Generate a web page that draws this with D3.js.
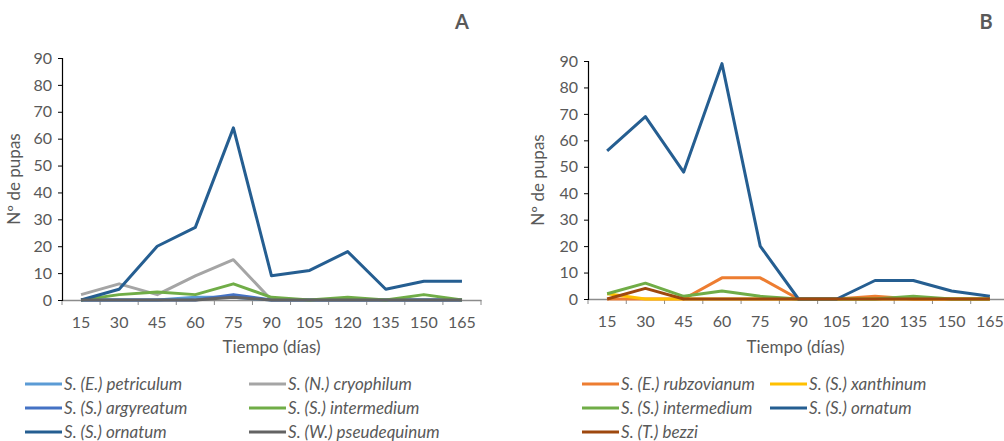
<!DOCTYPE html>
<html>
<head>
<meta charset="utf-8">
<script src="https://cdn.jsdelivr.net/npm/d3@7"></script>
<style>
  body { margin: 0; background: #fff; }
  text { font-family: Lato, 'Open Sans', sans-serif; fill: #595959; }
</style>
</head>
<body>
<svg width="1004" height="441"></svg>
<script>
// data
const days = ['15', '30', '45', '60', '75', '90', '105', '120', '135', '150', '165'];
const yTicks = [0, 10, 20, 30, 40, 50, 60, 70, 80, 90];

// panel A
const aPetriculum = [0, 0, 0, 1, 1, 0, 0, 0, 0, 0, 0];
const aCryophilum = [2, 6, 2, 9, 15, 0, 0, 0, 0, 0, 0];
const aArgyreatum = [0, 0, 0, 0, 2, 0, 0, 0, 0, 0, 0];
const aIntermedium = [0, 2, 3, 2, 6, 1, 0, 1, 0, 2, 0];
const aOrnatum = [0, 4, 20, 27, 64, 9, 11, 18, 4, 7, 7];
const aPseudequinum = [0, 0, 0, 0, 1, 0, 0, 0, 0, 0, 0];

// panel B
const bRubzovianum = [0, 0, 0, 8, 8, 0, 0, 1, 0, 0, 0];
const bXanthinum = [2, 0, 0, 0, 0, 0, 0, 0, 0, 0, 0];
const bIntermedium = [2, 6, 1, 3, 1, 0, 0, 0, 1, 0, 0];
const bOrnatum = [56, 69, 48, 89, 20, 0, 0, 7, 7, 3, 1];
const bBezzi = [0, 4, 0, 0, 0, 0, 0, 0, 0, 0, 0];

const panelA = [
  { name: 'S. (E.) petriculum', values: aPetriculum, color: '#5B9BD5' },
  { name: 'S. (N.) cryophilum', values: aCryophilum, color: '#A5A5A5' },
  { name: 'S. (S.) argyreatum', values: aArgyreatum, color: '#4472C4' },
  { name: 'S. (S.) intermedium', values: aIntermedium, color: '#70AD47' },
  { name: 'S. (S.) ornatum', values: aOrnatum, color: '#255E91' },
  { name: 'S. (W.) pseudequinum', values: aPseudequinum, color: '#636363' }
];
const panelB = [
  { name: 'S. (E.) rubzovianum', values: bRubzovianum, color: '#ED7D31' },
  { name: 'S. (S.) xanthinum', values: bXanthinum, color: '#FFC000' },
  { name: 'S. (S.) intermedium', values: bIntermedium, color: '#70AD47' },
  { name: 'S. (S.) ornatum', values: bOrnatum, color: '#255E91' },
  { name: 'S. (T.) bezzi', values: bBezzi, color: '#9E480E' }
];

const svg = d3.select('svg');

function drawPanel(cfg) {
  const g = svg.append('g');
  const x = d3.scaleBand().domain(days).range([cfg.left, cfg.right]);
  const y = d3.scaleLinear().domain([0, 90]).range([cfg.bottom, cfg.top]);

  // x axis
  const xa = g.append('g')
    .attr('transform', `translate(0, ${cfg.bottom})`)
    .call(d3.axisBottom(x).tickSizeOuter(0).tickSize(0).tickPadding(17));
  xa.select('.domain').attr('stroke', '#8c8c8c').attr('stroke-width', 1.3);
  xa.selectAll('text').style('font-size', '16px');
  // tick marks on band edges
  g.append('g').selectAll('line')
    .data(days)
    .join('line')
    .attr('x1', (d) => x(d) + x.bandwidth())
    .attr('x2', (d) => x(d) + x.bandwidth())
    .attr('y1', cfg.bottom)
    .attr('y2', cfg.bottom + 5)
    .attr('stroke', '#8c8c8c');
  g.append('line')
    .attr('x1', cfg.left).attr('x2', cfg.left)
    .attr('y1', cfg.bottom).attr('y2', cfg.bottom + 5)
    .attr('stroke', '#8c8c8c');

  // y axis
  const ya = g.append('g')
    .attr('transform', `translate(${cfg.left}, 0)`)
    .call(d3.axisLeft(y).tickValues(yTicks).tickSizeOuter(0).tickSize(4).tickPadding(6));
  ya.select('.domain').attr('stroke', '#000').attr('stroke-width', 1.2);
  ya.selectAll('line').attr('stroke', '#000');
  ya.selectAll('text').style('font-size', '16px');

  const line = d3.line()
    .x((d, i) => x(days[i]) + x.bandwidth() / 2)
    .y((d) => y(d));

  g.append('g').selectAll('path')
    .data(cfg.series)
    .join('path')
    .attr('d', (s) => line(s.values))
    .attr('fill', 'none')
    .attr('stroke', (s) => s.color)
    .attr('stroke-width', 3)
    .attr('stroke-linejoin', 'round');

  // axis titles
  g.append('text')
    .attr('x', (cfg.left + cfg.xTitleRight) / 2)
    .attr('y', 353)
    .attr('text-anchor', 'middle')
    .style('font-size', '17px')
    .text('Tiempo (días)');
  g.append('text')
    .attr('transform', `translate(${cfg.yTitleX}, ${(cfg.top + cfg.bottom) / 2}) rotate(-90)`)
    .attr('text-anchor', 'middle')
    .style('font-size', '17px')
    .text('Nº de pupas');

  // panel letter
  g.append('text')
    .attr('x', cfg.letterX)
    .attr('y', 29)
    .attr('text-anchor', 'middle')
    .style('font-size', '20px')
    .style('font-weight', 'bold')
    .text(cfg.letter);

  // legend
  const leg = g.append('g').selectAll('g')
    .data(cfg.series)
    .join('g')
    .attr('transform', (s, i) => {
      const col = cfg.legendCols[i % 2];
      const row = Math.floor(i / 2);
      return `translate(${col}, ${384 + row * 24})`;
    });
  leg.append('line')
    .attr('x1', 0).attr('x2', cfg.swatch)
    .attr('stroke', (s) => s.color)
    .attr('stroke-width', 3);
  leg.append('text')
    .attr('x', cfg.swatch + 2)
    .attr('dy', '0.33em')
    .style('font-size', '17px')
    .style('font-style', 'italic')
    .text((s) => s.name);
}

drawPanel({
  series: panelA, left: 62, right: 481, top: 58, bottom: 300,
  xTitleRight: 481, yTitleX: 20, letter: 'A', letterX: 462,
  legendCols: [25, 249], swatch: 37
});
drawPanel({
  series: panelB, left: 588, right: 1009, top: 61, bottom: 299,
  xTitleRight: 1003, yTitleX: 544, letter: 'B', letterX: 986,
  legendCols: [582, 770], swatch: 37
});
</script>
</body>
</html>
